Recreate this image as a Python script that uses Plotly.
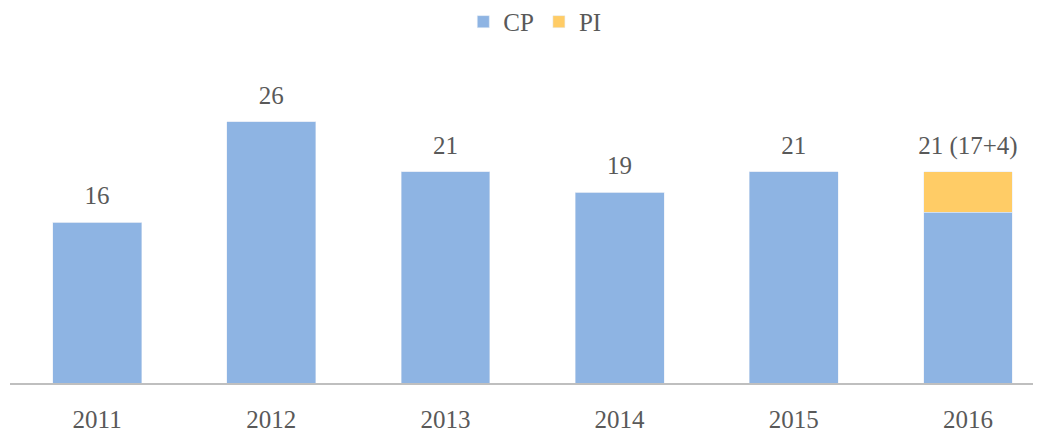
import plotly.graph_objects as go

years = ["2011", "2012", "2013", "2014", "2015", "2016"]
cp = [16, 26, 21, 19, 21, 17]
pi = [0, 0, 0, 0, 0, 4]
labels = ["16", "26", "21", "19", "21", "21 (17+4)"]

font_name = "Liberation Serif"
grey = "#595959"

totals = [c + p for c, p in zip(cp, pi)]

fig = go.Figure()
fig.add_trace(go.Bar(name="CP", x=years, y=cp, marker_color="#8EB4E3", width=0.51))
fig.add_trace(go.Bar(name="PI", x=years, y=pi, marker_color="#FFCC66", width=0.51))
# value labels above the bars; an invisible marker pushes the text up a little
fig.add_trace(go.Scatter(x=years, y=totals, mode="markers+text", text=labels,
                         textposition="top center", showlegend=False, hoverinfo="skip",
                         marker=dict(size=17, opacity=0),
                         textfont=dict(family=font_name, size=25, color=grey),
                         cliponaxis=False))

# page body has an 8px margin, so the figure is a bit smaller than the window
fig.update_layout(
    barmode="stack",
    width=1033, height=424,
    margin=dict(l=2, r=6, t=52, b=49, autoexpand=False),
    plot_bgcolor="white", paper_bgcolor="white",
    font=dict(family=font_name, size=25, color=grey),
    legend=dict(orientation="h", x=0.512, xanchor="center", y=1.118,
                yanchor="middle", font=dict(size=25), traceorder="normal"),
    xaxis=dict(range=[-0.5, 5.385], showline=True, linecolor="#BFBFBF", linewidth=1.5,
               ticks="", tickfont=dict(size=25), ticklabelstandoff=13, automargin=False),
    yaxis=dict(range=[0, 32.14], showticklabels=False, showline=False, showgrid=False,
               zeroline=False, automargin=False),
)

fig.write_html("out.html")
